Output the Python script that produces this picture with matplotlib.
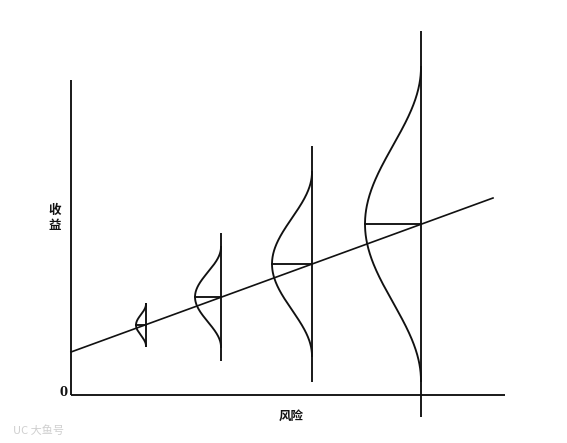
"""
收益-风险示意图：风险越大，期望收益越高，收益分布也越分散。
坐标单位：1 单位 ≈ 100 px（原点在坐标轴交点）。
"""
import matplotlib
matplotlib.use("Agg")
import matplotlib.pyplot as plt
import numpy as np

CJK = ["Noto Sans CJK SC", "DejaVu Sans"]

# 四个投资组合：风险、期望收益、分布宽度（纵向半幅）、曲线高度（横向）、竖线半长
risk = [0.75, 1.50, 2.41, 3.50]
exp_return = [0.70, 0.98, 1.31, 1.71]
spread = [0.21, 0.50, 0.92, 1.57]
peak = [0.10, 0.26, 0.40, 0.56]
stem = [0.22, 0.64, 1.18, 1.93]

# 风险-收益直线的两个端点
line_risk = [0.0, 4.22]
line_return = [0.43, 1.97]

# 坐标轴长度
x_axis_end = 4.34
y_axis_end = 3.15

W, H = 567, 443
fig = plt.figure(figsize=(W / 100, H / 100), dpi=100)
ax = fig.add_axes([0, 0, 1, 1])
ax.set_xlim(-0.71, (W - 71) / 100)
ax.set_ylim(-(H - 395) / 100, 3.95)
ax.axis("off")

INK = "#111111"
LW = 1.35

# 坐标轴
ax.plot([0, 0], [0, y_axis_end], color=INK, lw=LW, solid_capstyle="butt")
ax.plot([0, x_axis_end], [0, 0], color=INK, lw=LW, solid_capstyle="butt")

# 风险-收益直线
ax.plot(line_risk, line_return, color=INK, lw=1.2)

# 每个组合：竖线 + 左侧钟形曲线（两端平滑贴合竖线）+ 均值横线
for x, m, s, w, h in zip(risk, exp_return, spread, peak, stem):
    ax.plot([x, x], [m - h, m + h], color=INK, lw=LW, solid_capstyle="butt")
    t = np.linspace(-1, 1, 300)
    xx = x - w * 0.5 * (1 + np.cos(np.pi * t))
    ax.plot(xx, m + s * t, color=INK, lw=LW)
    ax.plot([x - w, x], [m, m], color=INK, lw=LW)

# 标注
ax.text(-0.16, 1.77, "收\n益", ha="center", va="center", fontsize=9,
        fontweight="bold", family=CJK, color=INK, linespacing=1.2)
ax.text(2.20, -0.21, "风险", ha="center", va="center", fontsize=9,
        fontweight="bold", family=CJK, color=INK)
ax.text(-0.07, 0.02, "0", ha="center", va="center", fontsize=8.5,
        fontweight="bold", family="DejaVu Serif", color=INK)

# 水印
ax.text(-0.58, -0.36, "UC 大鱼号", ha="left", va="center", fontsize=8,
        family=CJK, color="#cfcfcf")

fig.savefig("out.png", dpi=100, facecolor="white")
plt.close(fig)
